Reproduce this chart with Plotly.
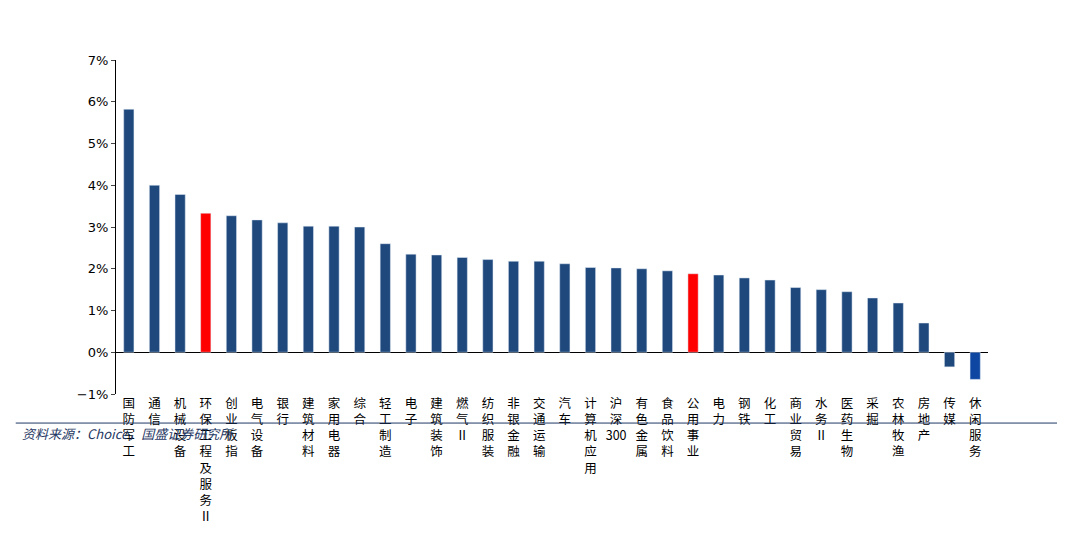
import plotly.graph_objects as go

categories = ["国防军工","通信","机械设备","环保工程及服务Ⅱ","创业板指","电气设备","银行","建筑材料","家用电器","综合",
              "轻工制造","电子","建筑装饰","燃气Ⅱ","纺织服装","非银金融","交通运输","汽车","计算机应用","沪深300",
              "有色金属","食品饮料","公用事业","电力","钢铁","化工","商业贸易","水务Ⅱ","医药生物","采掘",
              "农林牧渔","房地产","传媒","休闲服务"]
values = [5.82,4.0,3.78,3.33,3.27,3.17,3.1,3.02,3.02,3.0,
          2.6,2.35,2.33,2.27,2.22,2.18,2.18,2.12,2.03,2.02,
          2.0,1.95,1.88,1.85,1.78,1.73,1.55,1.5,1.45,1.3,
          1.18,0.7,-0.35,-0.65]
highlight = {"环保工程及服务Ⅱ":"#FF0000","公用事业":"#FF0000","休闲服务":"#0D47A1"}
colors = [highlight.get(c,"#1F497D") for c in categories]

def stack(s):
    out=[];i=0
    while i<len(s):
        if s[i:i+3]=="300": out.append("300"); i+=3
        else: out.append(s[i]); i+=1
    return "<br>".join(out)

fig = go.Figure(go.Bar(x=categories, y=[v/100 for v in values], marker_color=colors, width=0.4))
fig.update_layout(
    width=1065, height=540, margin=dict(l=108, r=85, t=52, b=154),
    plot_bgcolor="white", paper_bgcolor="white", showlegend=False,
    font=dict(family="Noto Sans CJK SC", size=12, color="#000"),
)
fig.update_yaxes(range=[-0.01,0.07], dtick=0.01, tickformat=".0%", showgrid=False,
                 showline=True, linecolor="#000", ticks="outside", ticklen=4,
                 zeroline=True, zerolinecolor="#000", zerolinewidth=1,
                 tickfont=dict(family="Verdana, DejaVu Sans", size=13))
fig.update_xaxes(tickmode="array", tickvals=categories, ticktext=[stack(c) for c in categories],
                 tickangle=0, showline=False, tickfont=dict(size=12.5))
fig.add_annotation(xref="paper", yref="paper", x=-0.11, y=1.419, xanchor="left", yanchor="middle",
                   text="<i>图表5:  当周各行业涨幅情况</i>", showarrow=False,
                   font=dict(size=14, color="#1F3864"))
fig.add_shape(type="line", xref="paper", yref="paper", x0=-0.115, x1=1.092, y0=1.371, y1=1.371,
              line=dict(color="#1F3864", width=1))
fig.add_shape(type="line", xref="paper", yref="paper", x0=-0.115, x1=1.092, y0=-0.087, y1=-0.087,
              line=dict(color="#1F3864", width=1))
fig.add_annotation(xref="paper", yref="paper", x=-0.11, y=-0.117, xanchor="left", yanchor="middle",
                   text="<i>资料来源：Choice，国盛证券研究所</i>", showarrow=False,
                   font=dict(size=13, color="#1F3864"))
fig.write_html("out.html")
